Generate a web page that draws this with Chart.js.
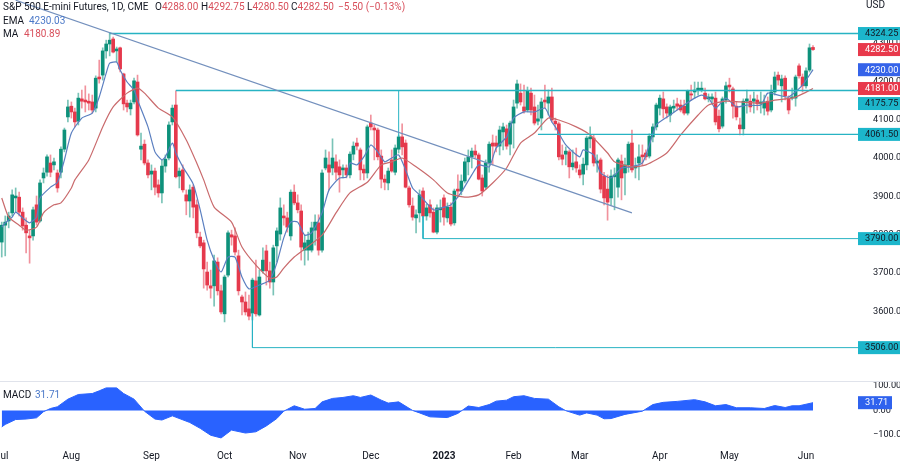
<!DOCTYPE html>
<html>
<head>
<meta charset="utf-8">
<script src="https://cdn.jsdelivr.net/npm/chart.js@4"></script>
<style>
    body { margin: 0; background: #fff; width: 900px; height: 464px; overflow: hidden; position: relative; font-family: Roboto, sans-serif; color: #131722; }
    canvas { position: absolute; left: 0; filter: blur(0.35px); }
    #priceChart { top: 0; }
    #macdChart { top: 382px; }
    #sep { position: absolute; left: 0; top: 381px; width: 900px; height: 1px; background: #e0e3eb; }
    .t { position: absolute; font-size: 10px; line-height: 13px; white-space: nowrap; }
    .red { color: #d8505c; }
    .blue { color: #4a78c8; }
</style>
</head>
<body>
<canvas id="priceChart" width="900" height="380"></canvas>
<div id="sep"></div>
<canvas id="macdChart" width="900" height="82"></canvas>

<div class="t" style="left:3px;top:0px">S&amp;P 500 E-mini Futures, 1D, CME</div>
<div class="t" style="left:155px;top:0px">O<span class="red">4288.00</span></div>
<div class="t" style="left:201px;top:0px">H<span class="red">4292.75</span></div>
<div class="t" style="left:247px;top:0px">L<span class="red">4280.50</span></div>
<div class="t" style="left:291px;top:0px">C<span class="red">4282.50</span></div>
<div class="t red" style="left:338px;top:0px">−5.50 (−0.13%)</div>
<div class="t" style="left:3px;top:14px">EMA</div>
<div class="t blue" style="left:29px;top:14px">4230.03</div>
<div class="t" style="left:3px;top:27px">MA</div>
<div class="t red" style="left:24px;top:27px">4180.89</div>
<div class="t" style="left:866px;top:-2px">USD</div>
<div class="t" style="left:3px;top:388px">MACD</div>
<div class="t blue" style="left:35px;top:388px">31.71</div>

<script>
const opens = [
    3781,3825,3836,3857,3896,3898,3859,3825,3797,3797,
    3878,3836,3948,3963,3987,3982,3961,3963,4023,4107,
    4135,4120,4096,4154,4151,4148,4146,4130,4211,4216,
    4279,4297,4310,4279,4287,4219,4143,4128,4146,4198,
    4023,4036,3987,3958,3966,3930,3909,3979,4000,4094,
    4138,3953,3969,3904,3888,3924,3878,3794,3779,3703,
    3667,3667,3729,3654,3594,3695,3800,3797,3745,3638,
    3625,3607,3596,3680,3591,3706,3758,3706,3677,3771,
    3802,3849,3844,3797,3911,3883,3862,3760,3760,3760,
    3812,3831,3760,3974,3982,3974,3990,3977,3969,3974,
    3956,4010,4039,4021,3971,3961,4091,4078,4073,4005,
    3945,3935,3995,3963,4023,4055,4039,3922,3875,3844,
    3857,3914,3849,3878,3859,3807,3865,3896,3844,3872,
    3831,3919,3914,3940,3990,4003,4018,4008,3948,3924,
    3987,4039,4039,4031,4068,4076,4036,4091,4143,4169,
    4133,4125,4169,4133,4096,4104,4151,4143,4159,4096,
    4089,4008,4010,4016,3977,3990,3969,3958,3982,4050,
    4052,3987,3995,3953,3919,3896,3951,3924,3992,3961,
    3982,4039,3974,3987,4008,4013,4005,4055,4081,4130,
    4154,4133,4112,4130,4141,4138,4135,4117,4167,4172,
    4177,4177,4169,4154,4154,4156,4109,4083,4151,4190,
    4180,4135,4086,4076,4148,4148,4148,4151,4141,4130,
    4148,4125,4172,4216,4188,4208,4156,4156,4156,4240,
    4211,4188,4229,4288
];
const closes = [
    3825,3833,3849,3904,3901,3859,3823,3805,3792,3865,
    3833,3935,3961,4003,3963,3990,3922,4023,4073,4133,
    4120,4094,4156,4148,4146,4143,4125,4208,4206,4279,
    4297,4307,4276,4284,4232,4141,4133,4143,4201,4060,
    4031,3987,3956,3966,3924,3909,3979,3997,4086,4130,
    3951,3966,3917,3888,3917,3872,3805,3771,3711,3669,
    3661,3732,3654,3599,3690,3805,3794,3755,3654,3625,
    3599,3588,3682,3594,3690,3734,3706,3677,3766,3810,
    3870,3844,3820,3911,3883,3865,3768,3779,3786,3818,
    3833,3760,3961,4000,3963,4000,3963,3956,3974,3956,
    4010,4031,4031,3969,3961,4081,4081,4073,4003,3945,
    3937,3966,3966,4026,4055,4029,3924,3878,3846,3852,
    3904,3849,3870,3857,3807,3870,3870,3846,3872,3828,
    3914,3914,3940,3990,4003,4018,4008,3945,3914,3987,
    4036,4031,4031,4073,4081,4031,4091,4133,4193,4146,
    4122,4175,4125,4091,4102,4146,4146,4159,4099,4089,
    4003,3997,4018,3977,3987,3974,3956,3984,4052,4055,
    3987,3992,3919,3896,3885,3953,3956,3995,3948,3982,
    4036,3969,3979,4003,4003,4003,4057,4081,4138,4156,
    4128,4117,4133,4135,4135,4125,4117,4175,4164,4177,
    4182,4182,4154,4159,4159,4094,4076,4154,4188,4185,
    4135,4107,4076,4148,4154,4133,4154,4141,4146,4146,
    4122,4172,4211,4203,4206,4162,4125,4159,4211,4214,
    4188,4227,4287,4282.5
];
const highs = [
    3833,3849,3859,3917,3922,3911,3870,3844,3812,3872,
    3901,3943,3974,4008,4008,4000,3969,4029,4078,4151,
    4146,4130,4169,4177,4188,4167,4164,4214,4255,4287,
    4307,4326,4315,4289,4289,4221,4151,4151,4208,4216,
    4065,4047,3995,3982,3974,3943,3995,4008,4094,4138,
    4175,3974,3982,3917,3930,3930,3891,3807,3786,3729,
    3708,3747,3740,3669,3695,3810,3812,3818,3760,3643,
    3651,3643,3687,3734,3708,3766,3773,3729,3773,3818,
    3896,3878,3859,3917,3930,3904,3878,3800,3807,3833,
    3852,3852,3969,4021,4016,4050,4008,3995,3982,3982,
    4016,4042,4052,4026,3982,4086,4112,4086,4078,4021,
    3956,3974,4021,4034,4060,4089,4047,3927,3896,3865,
    3917,3922,3880,3891,3870,3878,3891,3904,3883,3883,
    3919,3956,3956,4000,4021,4026,4034,4013,3956,3995,
    4042,4060,4057,4083,4091,4086,4096,4151,4203,4193,
    4190,4185,4182,4164,4138,4156,4190,4177,4182,4104,
    4094,4034,4029,4021,4021,4026,3982,4000,4057,4081,
    4060,4008,4000,3963,3956,3969,3974,4000,4008,4000,
    4042,4073,4000,4034,4034,4021,4063,4089,4143,4164,
    4172,4141,4138,4151,4156,4151,4151,4177,4190,4198,
    4198,4198,4182,4167,4167,4172,4125,4159,4198,4208,
    4185,4146,4104,4154,4177,4164,4172,4164,4172,4164,
    4159,4190,4224,4224,4216,4214,4162,4182,4216,4245,
    4219,4235,4297,4292.75
];
const lows = [
    3742,3745,3818,3849,3859,3849,3812,3753,3726,3786,
    3825,3833,3935,3953,3951,3969,3911,3948,4016,4094,
    4104,4081,4086,4130,4120,4125,4117,4120,4195,4203,
    4260,4266,4274,4250,4224,4125,4120,4112,4141,4057,
    3995,3982,3948,3917,3904,3898,3883,3963,3995,4086,
    3948,3922,3911,3852,3846,3844,3792,3766,3661,3656,
    3635,3614,3643,3594,3573,3690,3773,3747,3643,3591,
    3591,3578,3578,3588,3588,3700,3669,3661,3643,3729,
    3786,3825,3807,3786,3878,3857,3734,3721,3734,3755,
    3773,3747,3755,3969,3917,3956,3943,3911,3948,3948,
    3948,3995,4021,3943,3943,3948,4073,3995,3995,3922,
    3917,3917,3963,3956,4013,4008,3922,3872,3838,3805,
    3833,3846,3838,3846,3805,3802,3833,3825,3833,3823,
    3825,3898,3904,3935,3956,3974,4000,3943,3901,3919,
    3963,3982,4016,4008,4021,4023,4008,4026,4130,4138,
    4117,4120,4112,4086,4086,4073,4130,4112,4094,4073,
    3995,3982,3982,3948,3969,3963,3948,3930,3969,4026,
    3979,3963,3909,3878,3838,3878,3865,3898,3891,3904,
    3963,3963,3948,3943,3982,3995,4000,4042,4073,4112,
    4104,4104,4094,4120,4125,4120,4112,4112,4151,4156,
    4164,4172,4151,4146,4141,4086,4068,4078,4143,4172,
    4104,4099,4060,4060,4117,4120,4117,4125,4117,4112,
    4112,4120,4164,4190,4146,4151,4115,4151,4135,4208,
    4172,4182,4224,4280.5
];

const emaBars = [0,1,3,4,6,8,10,11,14,16,18,20,23,26,28,30,31,33,34,36,38,39,42,44,46,47,49,50,52,55,57,59,61,63,65,67,69,71,74,77,79,81,83,85,87,89,92,94,97,99,100,102,104,106,108,110,112,114,116,118,120,124,127,129,132,135,137,140,142,145,147,150,153,156,158,159,162,166,167,170,172,175,178,181,184,186,188,192,196,199,201,203,205,208,211,214,218,220,223,226,230,233];
const emaValues = [3820,3831,3846,3859,3844,3831,3846,3896,3924,3937,3995,4065,4104,4117,4159,4221,4247,4250,4229,4198,4177,4151,4081,4016,3995,4003,4039,4013,3977,3932,3865,3786,3734,3703,3742,3742,3690,3659,3669,3682,3726,3792,3833,3833,3799,3805,3857,3917,3948,3950,3987,3982,4003,4034,4016,3990,4000,4008,3969,3922,3904,3865,3872,3878,3911,3956,3982,3977,4026,4055,4104,4120,4120,4130,4094,4081,4034,4003,4021,4008,3961,3948,3974,3977,3987,4034,4086,4112,4138,4156,4164,4156,4130,4156,4133,4138,4138,4169,4164,4159,4190,4230.03];
const maBars = [0,2,5,7,10,12,15,17,20,21,25,29,32,36,39,41,45,49,53,56,58,61,66,69,73,77,79,81,84,92,96,100,105,109,112,115,119,124,128,133,137,141,145,149,153,157,160,165,169,174,176,181,185,191,195,200,203,208,212,218,222,227,230,233];
const maValues = [3896,3846,3825,3812,3820,3857,3878,3883,3922,3943,3995,4081,4133,4169,4182,4169,4130,4107,4047,3987,3943,3872,3833,3768,3721,3687,3690,3713,3742,3799,3857,3909,3937,3982,3990,4000,3977,3943,3909,3898,3904,3935,3974,4039,4065,4104,4099,4081,4060,4013,3990,3977,3982,4013,4060,4112,4138,4148,4146,4143,4151,4156,4167,4180.89];

const macdBars = [0,1,4,7,10,12,14,16,19,22,26,28,30,33,35,38,41,44,46,49,54,57,60,63,66,70,73,76,79,81,84,87,90,92,95,98,101,103,106,109,111,114,118,120,123,128,131,134,137,140,142,145,147,150,153,157,160,162,166,168,171,173,175,179,184,187,190,194,199,202,205,208,211,215,219,222,225,227,229,233];
const macdValues = [-67,-57,-37,-35,-30,-5,8,15,46,65,69,80,92,92,69,46,-3,-35,-39,-22,-49,-73,-101,-112,-80,-92,-87,-63,-33,-3,19,5,8,35,49,53,60,53,63,42,30,35,0,-10,-26,-29,-12,18,12,24,38,42,56,60,49,46,15,-1,-19,-10,-19,-34,-33,-16,-3,24,33,37,44,35,19,24,11,11,8,20,12,19,19,31.71];

const trendBars = [4, 181];
const trendValues = [4411, 3857];

const priceTicks = [3500, 3600, 3700, 3800, 3900, 4000, 4100, 4200, 4300];
const macdTicks = [-100, 0, 100];
const monthLabels = ["Jul", "Aug", "Sep", "Oct", "Nov", "Dec", "2023", "Feb", "Mar", "Apr", "May", "Jun"];
const monthBars = [0, 20, 43, 64, 85, 106, 127, 147, 166, 189, 209, 231];

const tagTexts = ["4324.25", "4282.50", "4230.00", "4181.00", "4175.75", "4061.50", "3790.00", "3506.00"];
const tagValues = [4324.25, 4282.5, 4230, 4181, 4175.75, 4061.5, 3790, 3506];
const tagColors = ["#1cb6cb", "#e8394b", "#3563e9", "#e8394b", "#1cb6cb", "#1cb6cb", "#1cb6cb", "#1cb6cb"];
const tagInk = ["#131722", "#fff", "#fff", "#fff", "#131722", "#131722", "#131722", "#131722"];

const font = "Roboto";
const green = "#0d917b";
const red = "#e5394c";
const teal = "#27b3c3";
const bars = [];
for (let i = 0; i < 247; i++) {
    bars.push("b" + i);
}

function points(idx, vals) {
    return idx.map((b, i) => ({ x: bars[b], y: vals[i] }));
}

function colors() {
    return opens.map((o, i) => (closes[i] >= o ? green : red));
}

function wickColors() {
    return opens.map((o, i) => (closes[i] >= o ? "rgba(13,145,123,0.55)" : "rgba(229,57,76,0.55)"));
}

function level(path, width) {
    return {
        type: "line",
        data: path,
        borderColor: teal,
        borderWidth: width,
        pointRadius: 0,
        order: 1,
    };
}

function curve(data, color) {
    return {
        type: "line",
        data: data,
        borderColor: color,
        borderWidth: 1.2,
        pointRadius: 0,
        tension: 0.2,
        order: 2,
    };
}

const last = bars[246];

const tagPlugin = {
    id: "tags",
    afterDraw(chart) {
        const ctx = chart.ctx;
        const y = chart.scales.y;
        ctx.save();
        ctx.font = "9.2px " + font;
        ctx.textBaseline = "middle";
        for (let i = 0; i < tagTexts.length; i++) {
            // the 4175.75 tag gets pushed down under the 4181 one
            let py = y.getPixelForValue(tagValues[i]);
            if (tagValues[i] === 4175.75) {
                py += 13;
            }
            ctx.fillStyle = tagColors[i];
            ctx.fillRect(858, py - 6.5, 42, 13);
            ctx.fillStyle = tagInk[i];
            ctx.fillText(tagTexts[i], 865, py + 0.5);
        }
        ctx.restore();
    },
};

const macdTagPlugin = {
    id: "macdTag",
    afterDraw(chart) {
        const ctx = chart.ctx;
        const py = chart.scales.y.getPixelForValue(31.71);
        ctx.save();
        ctx.fillStyle = "#2f62ee";
        ctx.fillRect(858, py - 6.5, 34, 13);
        ctx.fillStyle = "#fff";
        ctx.font = "9.2px " + font;
        ctx.textBaseline = "middle";
        ctx.fillText("31.71", 865, py + 0.5);
        ctx.restore();
    },
};

function yAxisBase(ticks, min, max) {
    return {
        position: "right",
        min: min,
        max: max,
        grid: { display: false },
        border: { display: false },
        afterBuildTicks(scale) {
            scale.ticks = ticks.map((v) => ({ value: v }));
        },
        afterFit(scale) {
            scale.width = 40;
            scale.paddingTop = 0;
            scale.paddingBottom = 0;
        },
        ticks: {
            padding: 5,
            color: "#131722",
            font: { family: font, size: 9.2 },
            callback: (v) => v.toFixed(2).replace("-", "−"),
        },
    };
}

new Chart(document.getElementById("priceChart"), {
    type: "bar",
    plugins: [tagPlugin],
    data: {
        labels: bars,
        datasets: [
            {
                data: lows.map((l, i) => [l, highs[i]]),
                backgroundColor: wickColors(),
                barThickness: 1,
                grouped: false,
                order: 5,
            },
            {
                data: opens.map((o, i) => [o, closes[i]]),
                backgroundColor: colors(),
                barThickness: 3,
                minBarLength: 1,
                grouped: false,
                order: 4,
            },
            curve(points(maBars, maValues), "#c96a6c"),
            curve(points(emaBars, emaValues), "#5b7fc0"),
            {
                type: "line",
                data: points(trendBars, trendValues),
                borderColor: "#7390bd",
                borderWidth: 1.2,
                pointRadius: 0,
                order: 1,
            },
            level([{ x: bars[31], y: 4324.25 }, { x: last, y: 4324.25 }], 1.5),
            level([{ x: bars[50], y: 4175.75 }, { x: last, y: 4175.75 }], 1.5),
            level([{ x: bars[114], y: 4055 }, { x: bars[114], y: 4175.75 }], 1),
            level([{ x: bars[154], y: 4061.5 }, { x: last, y: 4061.5 }], 1.2),
            level([{ x: bars[121], y: 3849 }, { x: bars[121], y: 3790 }, { x: last, y: 3790 }], 1),
            level([{ x: bars[72], y: 3596 }, { x: bars[72], y: 3506 }, { x: last, y: 3506 }], 1),
        ],
    },
    options: {
        responsive: false,
        animation: false,
        events: [],
        layout: { autoPadding: false },
        plugins: { legend: { display: false }, tooltip: { enabled: false } },
        scales: {
            x: { display: false },
            y: yAxisBase(priceTicks, 3421.7, 4411.6),
        },
    },
});

new Chart(document.getElementById("macdChart"), {
    type: "line",
    plugins: [macdTagPlugin],
    data: {
        labels: bars,
        datasets: [
            {
                data: points(macdBars, macdValues),
                borderColor: "#2962ff",
                backgroundColor: "#2962ff",
                borderWidth: 1,
                pointRadius: 0,
                fill: { value: 0 },
            },
        ],
    },
    options: {
        responsive: false,
        animation: false,
        events: [],
        layout: { autoPadding: false },
        plugins: { legend: { display: false }, tooltip: { enabled: false } },
        scales: {
            x: {
                offset: true,
                grid: { display: false, drawTicks: false },
                border: { display: false },
                afterFit(scale) {
                    scale.height = 17;
                    scale.paddingLeft = 0;
                    scale.paddingRight = 0;
                },
                ticks: {
                    autoSkip: false,
                    maxRotation: 0,
                    padding: 3,
                    color: "#131722",
                    font: (c) => ({ family: font, size: 10, weight: c.tick && c.tick.label === "2023" ? "bold" : "normal" }),
                    callback: (v, i) => {
                        const m = monthBars.indexOf(i);
                        return m >= 0 ? monthLabels[m] : "";
                    },
                },
            },
            y: yAxisBase(macdTicks, -149, 116),
        },
    },
});
</script>
</body>
</html>
